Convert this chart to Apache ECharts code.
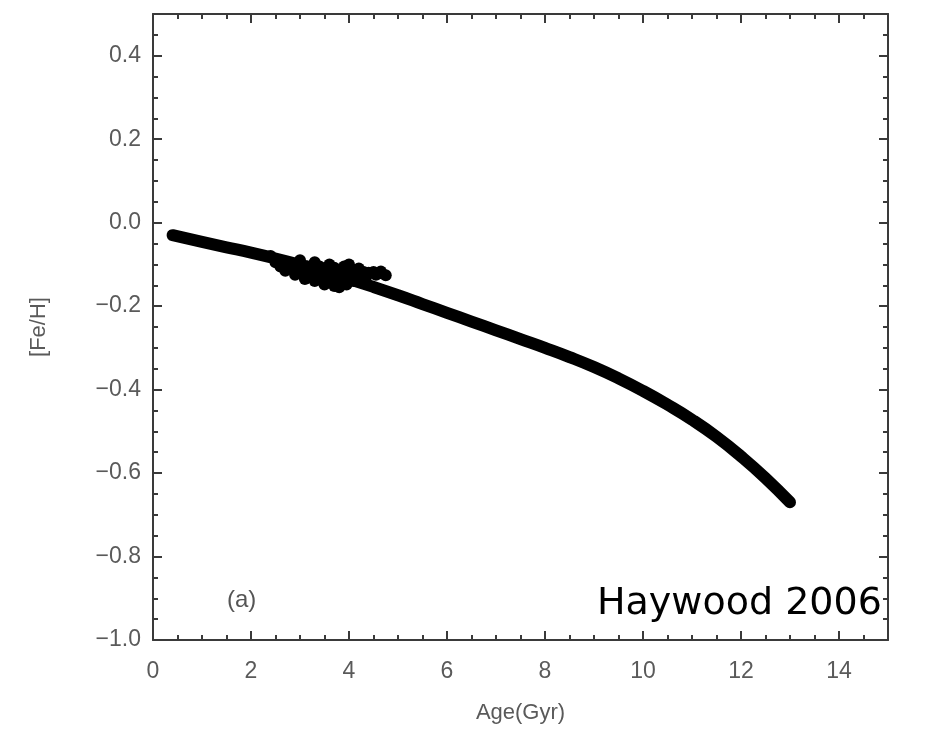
<!DOCTYPE html>
<html>
<head>
<meta charset="utf-8">
<script src="https://cdn.jsdelivr.net/npm/echarts@6/dist/echarts.min.js"></script>
<style>
  html, body { margin: 0; padding: 0; background: #fff; }
  #chart { width: 930px; height: 731px; }
</style>
</head>
<body>
<div id="chart"></div>
<script>
// Age–metallicity relation: mean track and the scattered cloud of young stars
var ages = [0.4, 1.0, 1.5, 2.0, 2.5, 3.0, 3.5, 4.0, 4.5, 5.0, 5.5, 6.0, 6.5, 7.0,
            7.5, 8.0, 8.5, 9.0, 9.5, 10.0, 10.5, 11.0, 11.5, 12.0, 12.5, 13.0];
var feH  = [-0.030, -0.046, -0.059, -0.072, -0.086, -0.101, -0.117, -0.135, -0.154,
            -0.174, -0.195, -0.216, -0.237, -0.258, -0.279, -0.300, -0.322, -0.346,
            -0.373, -0.403, -0.436, -0.472, -0.513, -0.560, -0.612, -0.670];

var cloudAge = [2.4, 2.5, 2.6, 2.7, 2.8, 2.85, 2.9, 3.0, 3.0, 3.05, 3.1, 3.15, 3.2,
                3.25, 3.3, 3.3, 3.4, 3.4, 3.45, 3.5, 3.55, 3.6, 3.6, 3.65, 3.7, 3.7,
                3.75, 3.8, 3.8, 3.85, 3.9, 3.95, 4.0, 4.0, 4.05, 4.1, 4.15, 4.2, 4.2,
                4.3, 4.35, 4.4, 4.5, 4.55, 4.6, 4.65, 4.75];
var cloudFeH = [-0.080, -0.095, -0.105, -0.115, -0.100, -0.112, -0.125, -0.110,
                -0.090, -0.122, -0.135, -0.105, -0.115, -0.128, -0.140, -0.095,
                -0.120, -0.105, -0.132, -0.148, -0.112, -0.125, -0.100, -0.140,
                -0.152, -0.108, -0.118, -0.155, -0.130, -0.142, -0.105, -0.148,
                -0.125, -0.100, -0.112, -0.140, -0.130, -0.125, -0.110, -0.118,
                -0.130, -0.120, -0.118, -0.125, -0.122, -0.117, -0.126];

var xTicks = [0, 2, 4, 6, 8, 10, 12, 14];
var yTicks = [-1.0, -0.8, -0.6, -0.4, -0.2, 0.0, 0.2, 0.4];

var trackData = ages.map(function (a, i) { return [a, feH[i]]; });
var cloudData = cloudAge.map(function (a, i) { return [a, cloudFeH[i]]; });

var axisColor = '#3a3a3a';
var labelColor = '#5a5a5a';
var font = 'Liberation Sans, Arial, sans-serif';

function xAxis(pos, major, labels) {
  return {
    type: 'value', position: pos, min: 0, max: 15,
    interval: major ? 2 : 0.5,
    axisLine: { show: major, onZero: false, lineStyle: { color: axisColor, width: 2 } },
    axisTick: { show: true, inside: true, length: major ? 9 : 5,
                lineStyle: { color: axisColor, width: 2 } },
    axisLabel: {
      show: labels, color: labelColor, fontSize: 23, fontFamily: font, margin: 20,
      formatter: function (v) { return xTicks.indexOf(v) >= 0 ? String(v) : ''; }
    },
    splitLine: { show: false },
    name: labels ? 'Age(Gyr)' : '', nameLocation: 'middle', nameGap: 62,
    nameTextStyle: { color: labelColor, fontSize: 22, fontFamily: font }
  };
}

function yAxis(pos, major, labels) {
  return {
    type: 'value', position: pos, min: -1.0, max: 0.5,
    interval: major ? 0.2 : 0.05,
    axisLine: { show: major, onZero: false, lineStyle: { color: axisColor, width: 2 } },
    axisTick: { show: true, inside: true, length: major ? 9 : 5,
                lineStyle: { color: axisColor, width: 2 } },
    axisLabel: {
      show: labels, color: labelColor, fontSize: 23, fontFamily: font, margin: 12,
      formatter: function (v) {
        var r = Math.round(v * 10) / 10;
        if (!yTicks.some(function (t) { return Math.abs(t - r) < 1e-6; })) return '';
        if (Math.abs(v - r) > 1e-6) return '';
        return r.toFixed(1).replace('-', '\u2212');
      }
    },
    splitLine: { show: false },
    name: labels ? '[Fe/H]' : '', nameLocation: 'middle', nameGap: 103, nameRotate: 90,
    nameTextStyle: { color: labelColor, fontSize: 22, fontFamily: font }
  };
}

var chart = echarts.init(document.getElementById('chart'), null, { renderer: 'canvas' });
chart.setOption({
  backgroundColor: '#ffffff',
  animation: false,
  grid: { left: 153, top: 14, right: 42, bottom: 91, containLabel: false },
  xAxis: [
    xAxis('bottom', true, true),
    xAxis('bottom', false, false),
    xAxis('top', true, false),
    xAxis('top', false, false)
  ],
  yAxis: [
    yAxis('left', true, true),
    yAxis('left', false, false),
    yAxis('right', true, false),
    yAxis('right', false, false)
  ],
  series: [
    {
      type: 'line', data: trackData, smooth: true, symbol: 'none',
      lineStyle: { color: '#000', width: 12, cap: 'round', join: 'round' }
    },
    {
      type: 'scatter', data: cloudData, symbol: 'circle', symbolSize: 12,
      itemStyle: { color: '#000', opacity: 1 }
    }
  ],
  graphic: [
    { type: 'text', left: 227, top: 588,
      style: { text: '(a)', fill: '#555', font: '24px Liberation Sans, Arial, sans-serif' } },
    { type: 'text', left: 597, top: 585,
      style: { text: 'Haywood 2006', fill: '#000', font: '38px DejaVu Sans, sans-serif' } }
  ]
});
</script>
</body>
</html>
